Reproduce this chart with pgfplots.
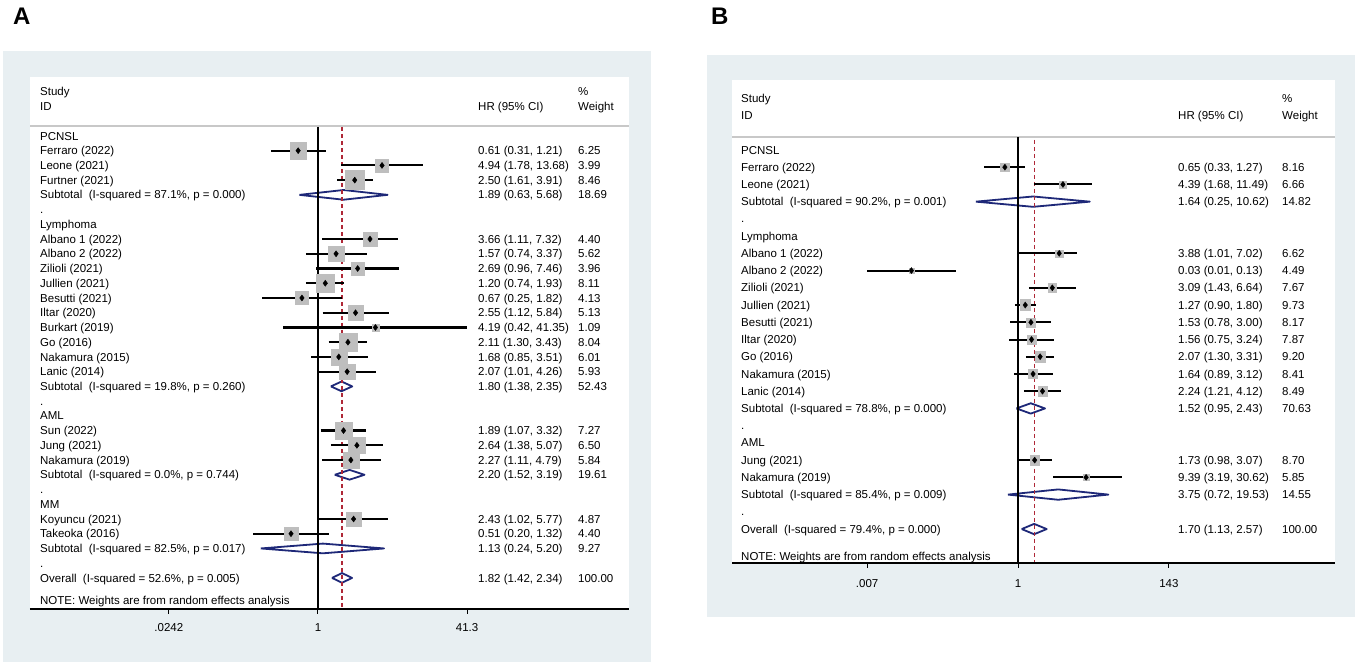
\documentclass[border=0pt]{standalone}
\usepackage{pgfplots}
\pgfplotsset{compat=1.18}
\usepackage{fontspec}
\setmainfont{Liberation Sans}
\definecolor{bgc}{RGB}{232,239,242}
\definecolor{sepc}{RGB}{200,200,200}
\definecolor{sqc}{RGB}{190,190,190}
\definecolor{navc}{RGB}{30,40,120}
\definecolor{redc}{RGB}{175,40,55}
\newcommand\tfont{\fontsize{11.5}{13}\selectfont}
\tikzset{lab/.style={anchor=base west, inner sep=0pt, yshift=-4.1pt, font=\tfont}}
% row text: y, label, HR (95% CI), weight  (columns placed relative to HR = 1)
\newcommand\rw[4]{%
  \node[lab, xshift=\XL] at (axis cs:1,#1) {#2};
  \node[lab, xshift=\XH] at (axis cs:1,#1) {#3};
  \node[lab, xshift=\XW] at (axis cs:1,#1) {#4};}
% study: y, hr, lo, hi, weight
\newcommand\st[5]{%
  \addplot[sqc, only marks, mark=square*, mark size={\SQ{#5}}] coordinates {(#2,#1)};
  \addplot[black, line width=\CIW] coordinates {(#3,#1) (#4,#1)};
  \addplot[black, only marks, mark=diamond*, mark size=3pt] coordinates {(#2,#1)};}
% pooled diamond: y, ytop, ybottom, hr, lo, hi
\newcommand\dm[6]{%
  \addplot[draw=navc, fill=white, line width=1.8pt, line join=round] coordinates {(#5,#1) (#4,#2) (#6,#1) (#4,#3) (#5,#1)};}
\begin{document}
\begin{tikzpicture}[x=1pt,y=1pt]
\useasboundingbox (0,0) rectangle (1358,-666);
\fill[white] (0,0) rectangle (1358,-666);
\fill[bgc] (3,-51) rectangle (651,-662);
\fill[bgc] (707,-55) rectangle (1355,-617);
\fill[white] (30,-77) rectangle (629,-609);
\fill[white] (732,-80) rectangle (1335,-563);
\draw[sepc, line width=2pt] (30,-126) -- (629,-126);
\draw[sepc, line width=2pt] (732,-137) -- (1335,-137);
\node[anchor=north west, inner sep=0pt, font=\fontsize{24}{24}\selectfont\bfseries] at (13,-8) {A};
\node[anchor=north west, inner sep=0pt, font=\fontsize{24}{24}\selectfont\bfseries] at (711,-8) {B};

% ---------------- Panel A ----------------
\def\XL{-278pt}\def\XH{160pt}\def\XW{260pt}
\def\SQ#1{3.25*sqrt(#1)}\def\CIW{2.2pt}
\begin{axis}[scale only axis, anchor=south west, at={(30pt,-609pt)}, width=599pt, height=532pt,
  xmode=log, xmin=7.58e-4, xmax=2342, ymin=-32.11, ymax=4.0,
  hide axis, clip=false]
\dm{-4}{-3.67}{-4.33}{1.89}{0.63}{5.68}
\dm{-17}{-16.67}{-17.33}{1.80}{1.38}{2.35}
\dm{-23}{-22.67}{-23.33}{2.20}{1.52}{3.19}
\dm{-28}{-27.67}{-28.33}{1.13}{0.24}{5.20}
\dm{-30}{-29.67}{-30.33}{1.82}{1.42}{2.34}
\addplot[black, line width=1.2pt] coordinates {(1,0.61) (1,-32.11)};
\addplot[redc, line width=1.1pt, dash pattern=on 4pt off 3pt] coordinates {(1.82,0.61) (1.82,-32.11)};
\st{-1}{0.61}{0.31}{1.21}{6.25}
\st{-2}{4.94}{1.78}{13.68}{3.99}
\st{-3}{2.50}{1.61}{3.91}{8.46}
\st{-7}{3.66}{1.11}{7.32}{4.40}
\st{-8}{1.57}{0.74}{3.37}{5.62}
\st{-9}{2.69}{0.96}{7.46}{3.96}
\st{-10}{1.20}{0.74}{1.93}{8.11}
\st{-11}{0.67}{0.25}{1.82}{4.13}
\st{-12}{2.55}{1.12}{5.84}{5.13}
\st{-13}{4.19}{0.42}{41.35}{1.09}
\st{-14}{2.11}{1.30}{3.43}{8.04}
\st{-15}{1.68}{0.85}{3.51}{6.01}
\st{-16}{2.07}{1.01}{4.26}{5.93}
\st{-20}{1.89}{1.07}{3.32}{7.27}
\st{-21}{2.64}{1.38}{5.07}{6.50}
\st{-22}{2.27}{1.11}{4.79}{5.84}
\st{-26}{2.43}{1.02}{5.77}{4.87}
\st{-27}{0.51}{0.20}{1.32}{4.40}
% x axis line, ticks and tick labels
\addplot[black, line width=1.3pt] coordinates {(7.58e-4,-32.11) (2342,-32.11)};
\addplot[black, only marks, mark=|, mark size=2.5pt, mark options={line width=1pt, yshift=-2.5pt}] coordinates {(0.0242,-32.11) (1,-32.11) (41.3,-32.11)};
\node[font=\tfont, anchor=base, inner sep=0pt, yshift=-22pt] at (axis cs:0.0242,-32.11) {.0242};
\node[font=\tfont, anchor=base, inner sep=0pt, yshift=-22pt] at (axis cs:1,-32.11) {1};
\node[font=\tfont, anchor=base, inner sep=0pt, yshift=-22pt] at (axis cs:41.3,-32.11) {41.3};
\rw{3}{Study}{}{\%}
\rw{2}{ID}{HR (95\% CI)}{Weight}
\rw{0}{PCNSL}{}{}
\rw{-1}{Ferraro (2022)}{0.61 (0.31, 1.21)}{6.25}
\rw{-2}{Leone (2021)}{4.94 (1.78, 13.68)}{3.99}
\rw{-3}{Furtner (2021)}{2.50 (1.61, 3.91)}{8.46}
\rw{-4}{Subtotal\ \ (I-squared = 87.1\%, p = 0.000)}{1.89 (0.63, 5.68)}{18.69}
\rw{-5}{.}{}{}
\rw{-6}{Lymphoma}{}{}
\rw{-7}{Albano 1 (2022)}{3.66 (1.11, 7.32)}{4.40}
\rw{-8}{Albano 2 (2022)}{1.57 (0.74, 3.37)}{5.62}
\rw{-9}{Zilioli (2021)}{2.69 (0.96, 7.46)}{3.96}
\rw{-10}{Jullien (2021)}{1.20 (0.74, 1.93)}{8.11}
\rw{-11}{Besutti (2021)}{0.67 (0.25, 1.82)}{4.13}
\rw{-12}{Iltar (2020)}{2.55 (1.12, 5.84)}{5.13}
\rw{-13}{Burkart (2019)}{4.19 (0.42, 41.35)}{1.09}
\rw{-14}{Go (2016)}{2.11 (1.30, 3.43)}{8.04}
\rw{-15}{Nakamura (2015)}{1.68 (0.85, 3.51)}{6.01}
\rw{-16}{Lanic (2014)}{2.07 (1.01, 4.26)}{5.93}
\rw{-17}{Subtotal\ \ (I-squared = 19.8\%, p = 0.260)}{1.80 (1.38, 2.35)}{52.43}
\rw{-18}{.}{}{}
\rw{-19}{AML}{}{}
\rw{-20}{Sun (2022)}{1.89 (1.07, 3.32)}{7.27}
\rw{-21}{Jung (2021)}{2.64 (1.38, 5.07)}{6.50}
\rw{-22}{Nakamura (2019)}{2.27 (1.11, 4.79)}{5.84}
\rw{-23}{Subtotal\ \ (I-squared = 0.0\%, p = 0.744)}{2.20 (1.52, 3.19)}{19.61}
\rw{-24}{.}{}{}
\rw{-25}{MM}{}{}
\rw{-26}{Koyuncu (2021)}{2.43 (1.02, 5.77)}{4.87}
\rw{-27}{Takeoka (2016)}{0.51 (0.20, 1.32)}{4.40}
\rw{-28}{Subtotal\ \ (I-squared = 82.5\%, p = 0.017)}{1.13 (0.24, 5.20)}{9.27}
\rw{-29}{.}{}{}
\rw{-30}{Overall\ \ (I-squared = 52.6\%, p = 0.005)}{1.82 (1.42, 2.34)}{100.00}
\rw{-31.55}{NOTE: Weights are from random effects analysis}{}{}
\end{axis}

% ---------------- Panel B ----------------
\def\XL{-277pt}\def\XH{160pt}\def\XW{264pt}
\def\SQ#1{0.55*#1}\def\CIW{2pt}
\begin{axis}[scale only axis, anchor=south west, at={(808pt,-563pt)}, width=420pt, height=483pt,
  xmode=log, xmin=0.001, xmax=1000, ymin=-23.97, ymax=4.06, hide axis, clip=false]
\dm{-3}{-2.7}{-3.3}{1.64}{0.25}{10.62}
\dm{-15}{-14.7}{-15.3}{1.52}{0.95}{2.43}
\dm{-20}{-19.7}{-20.3}{3.75}{0.72}{19.53}
\dm{-22}{-21.7}{-22.3}{1.70}{1.13}{2.57}
\addplot[black, line width=1.2pt] coordinates {(1,0.75) (1,-23.97)};
\addplot[redc, line width=1.1pt, dash pattern=on 4pt off 3pt] coordinates {(1.70,0.58) (1.70,-23.97)};
\st{-1}{0.65}{0.33}{1.27}{8.16}
\st{-2}{4.39}{1.68}{11.49}{6.66}
\st{-6}{3.88}{1.01}{7.02}{6.62}
\st{-7}{0.03}{0.007}{0.13}{4.49}
\st{-8}{3.09}{1.43}{6.64}{7.67}
\st{-9}{1.27}{0.90}{1.80}{9.73}
\st{-10}{1.53}{0.78}{3.00}{8.17}
\st{-11}{1.56}{0.75}{3.24}{7.87}
\st{-12}{2.07}{1.30}{3.31}{9.20}
\st{-13}{1.64}{0.89}{3.12}{8.41}
\st{-14}{2.24}{1.21}{4.12}{8.49}
\st{-18}{1.73}{0.98}{3.07}{8.70}
\st{-19}{9.39}{3.19}{30.62}{5.85}
% x axis line (extended to the panel edges), ticks and tick labels
\addplot[black, line width=1.3pt, shorten <=-76pt, shorten >=-107pt] coordinates {(0.001,-23.97) (1000,-23.97)};
\addplot[black, only marks, mark=|, mark size=2.5pt, mark options={line width=1pt, yshift=-2.5pt}] coordinates {(0.007,-23.97) (1,-23.97) (143,-23.97)};
\node[font=\tfont, anchor=base, inner sep=0pt, yshift=-24pt] at (axis cs:0.007,-23.97) {.007};
\node[font=\tfont, anchor=base, inner sep=0pt, yshift=-24pt] at (axis cs:1,-23.97) {1};
\node[font=\tfont, anchor=base, inner sep=0pt, yshift=-24pt] at (axis cs:143,-23.97) {143};
\rw{3}{Study}{}{\%}
\rw{2}{ID}{HR (95\% CI)}{Weight}
\rw{0}{PCNSL}{}{}
\rw{-1}{Ferraro (2022)}{0.65 (0.33, 1.27)}{8.16}
\rw{-2}{Leone (2021)}{4.39 (1.68, 11.49)}{6.66}
\rw{-3}{Subtotal\ \ (I-squared = 90.2\%, p = 0.001)}{1.64 (0.25, 10.62)}{14.82}
\rw{-4}{.}{}{}
\rw{-5}{Lymphoma}{}{}
\rw{-6}{Albano 1 (2022)}{3.88 (1.01, 7.02)}{6.62}
\rw{-7}{Albano 2 (2022)}{0.03 (0.01, 0.13)}{4.49}
\rw{-8}{Zilioli (2021)}{3.09 (1.43, 6.64)}{7.67}
\rw{-9}{Jullien (2021)}{1.27 (0.90, 1.80)}{9.73}
\rw{-10}{Besutti (2021)}{1.53 (0.78, 3.00)}{8.17}
\rw{-11}{Iltar (2020)}{1.56 (0.75, 3.24)}{7.87}
\rw{-12}{Go (2016)}{2.07 (1.30, 3.31)}{9.20}
\rw{-13}{Nakamura (2015)}{1.64 (0.89, 3.12)}{8.41}
\rw{-14}{Lanic (2014)}{2.24 (1.21, 4.12)}{8.49}
\rw{-15}{Subtotal\ \ (I-squared = 78.8\%, p = 0.000)}{1.52 (0.95, 2.43)}{70.63}
\rw{-16}{.}{}{}
\rw{-17}{AML}{}{}
\rw{-18}{Jung (2021)}{1.73 (0.98, 3.07)}{8.70}
\rw{-19}{Nakamura (2019)}{9.39 (3.19, 30.62)}{5.85}
\rw{-20}{Subtotal\ \ (I-squared = 85.4\%, p = 0.009)}{3.75 (0.72, 19.53)}{14.55}
\rw{-21}{.}{}{}
\rw{-22}{Overall\ \ (I-squared = 79.4\%, p = 0.000)}{1.70 (1.13, 2.57)}{100.00}
\rw{-23.56}{NOTE: Weights are from random effects analysis}{}{}
\end{axis}
\end{tikzpicture}
\end{document}
